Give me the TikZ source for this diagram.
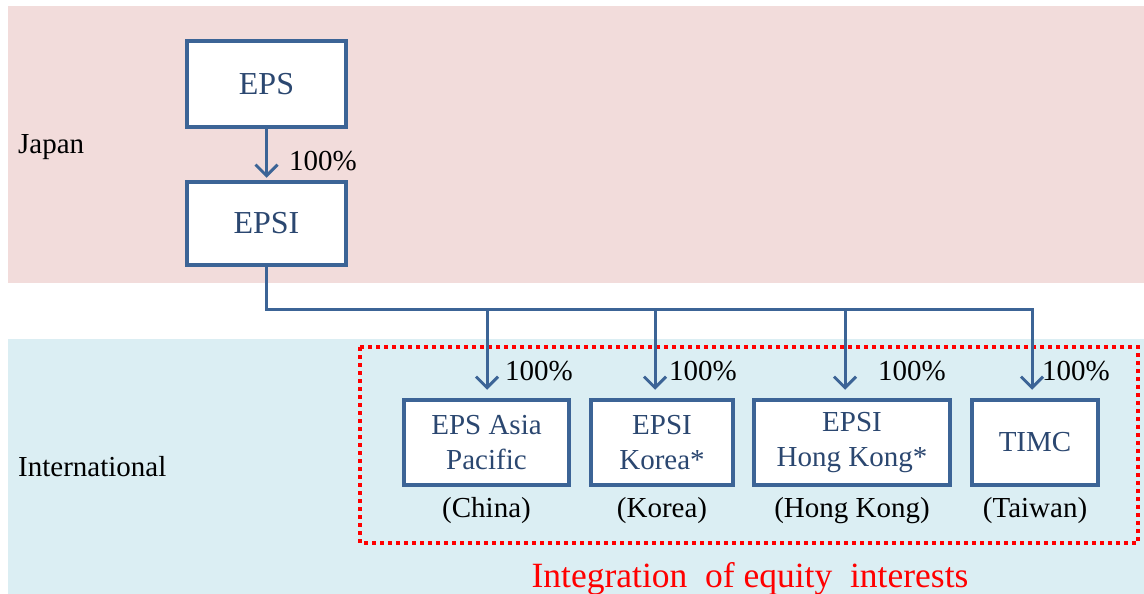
\documentclass[tikz,border=0pt]{standalone}
\usepackage{fontspec}
\setmainfont{Liberation Serif}
\usetikzlibrary{arrows.meta,calc}
\definecolor{pinkbg}{HTML}{F2DCDB}
\definecolor{bluebg}{HTML}{DBEEF3}
\definecolor{boxblue}{HTML}{3C6496}
\definecolor{boxtext}{HTML}{2B4770}
\begin{document}
\begin{tikzpicture}[x=1pt,y=-1pt,
  entity/.style={draw=boxblue, line width=4.5pt, fill=white, text=boxtext,
    font=\fontsize{29}{35}\selectfont, align=center, inner sep=0pt},
  bigentity/.style={entity, font=\fontsize{32}{38}\selectfont},
  lbl/.style={font=\fontsize{29}{35}\selectfont, inner sep=0pt},
  conn/.style={draw=boxblue, line width=3pt},
  arr/.style={conn, -{Straight Barb[length=11pt,width=22pt]}, shorten >=8pt}]
\useasboundingbox (0,0) rectangle (1144,594);
\fill[pinkbg] (8,6) rectangle (1144,283);
\fill[bluebg] (8,339) rectangle (1144,594);
\node[lbl, anchor=west] (japan) at (18,147) {Japan};
\node[lbl, anchor=west] (intl) at (18,467) {International};
\node[bigentity, minimum width=159pt, minimum height=86pt] (eps) at (266.5,84) {EPS};
\node[bigentity, minimum width=159pt, minimum height=83pt] (epsi) at (266.5,223.5) {EPSI};
\draw[arr, shorten >=2pt] (eps.south) -- (epsi.north);
\node[lbl, anchor=west] (p0) at (289,161) {100\%};
\draw[red, line width=4pt, dash pattern=on 4pt off 4pt] (360,347) rectangle (1138,543);
\node[entity, minimum width=165pt, minimum height=85pt] (c1) at (486.5,442.5) {EPS Asia\\Pacific};
\node[entity, minimum width=142pt, minimum height=85pt] (c2) at (662,442.5) {EPSI\\Korea*};
\node[entity, minimum width=196pt, minimum height=85pt] (c3) at (852,442.5) {EPSI\\Hong Kong*};
\node[entity, minimum width=126pt, minimum height=85pt] (c4) at (1035,442.5) {TIMC};
\coordinate (j1) at (487,309);
\coordinate (j2) at (655,309);
\coordinate (j3) at (845,309);
\coordinate (j4) at (1032,309);
\draw[arr] (epsi.south) |- (j4) -- (j4 |- c4.north);
\draw[arr] (j1) -- (j1 |- c1.north);
\draw[arr] (j2) -- (j2 |- c2.north);
\draw[arr] (j3) -- (j3 |- c3.north);
\node[lbl, anchor=west] (p1) at (505,371) {100\%};
\node[lbl, anchor=west] (p2) at (669,371) {100\%};
\node[lbl, anchor=west] (p3) at (878,371) {100\%};
\node[lbl, anchor=west] (p4) at (1042,371) {100\%};
\node[lbl] (k1) at (486.5,511) {(China)};
\node[lbl] (k2) at (662,511) {(Korea)};
\node[lbl] (k3) at (852,511) {(Hong Kong)};
\node[lbl] (k4) at (1035,511) {(Taiwan)};
\node[font=\fontsize{35.5}{42}\selectfont, text=red, inner sep=0pt, anchor=base] (title) at (750,587) {Integration\ \ of equity\ \ interests};
\end{tikzpicture}
\end{document}
